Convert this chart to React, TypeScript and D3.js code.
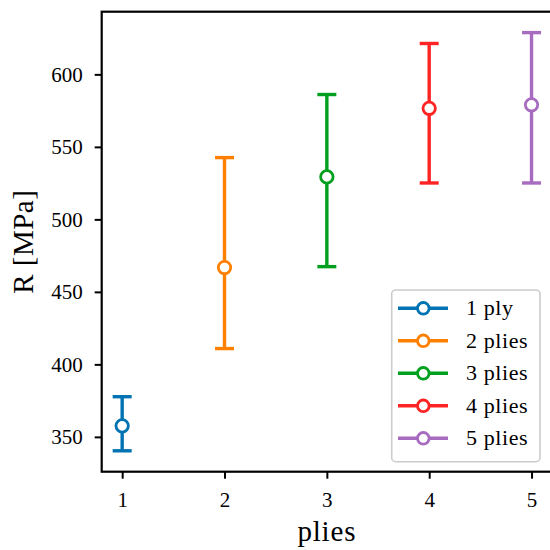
import React, { useEffect, useRef } from "react";
import * as d3 from "d3";

const plies = [1, 2, 3, 4, 5];
const labels = ["1 ply", "2 plies", "3 plies", "4 plies", "5 plies"];
const means = [357.6, 466.8, 529.3, 576.6, 579.0];
const lows = [340.4, 410.9, 467.4, 525.1, 525.1];
const highs = [377.7, 542.6, 586.1, 621.3, 628.8];
const colors = ["#0173b2", "#ff8000", "#00a01e", "#ff2323", "#a76bc0"];
const yTicks = [350, 400, 450, 500, 550, 600];

const FONT = "'Liberation Serif', serif";

const App = () => {
    const ref = useRef<SVGSVGElement>(null);

    useEffect(() => {
        if (!ref.current) return;
        const svg = d3.select(ref.current);
        svg.selectAll("*").remove();

        const left = 101.7, right = 552, top = 11.7, bottom = 471.7;

        const x = d3.scaleLinear().domain([0.8, 5.2]).range([left, right]);
        const yMin = d3.min(lows)!, yMax = d3.max(highs)!;
        const pad = (yMax - yMin) * 0.05;
        const y = d3.scaleLinear().domain([yMin - pad, yMax + pad]).range([bottom, top]);

        // error bars
        const g = svg.append("g");
        plies.forEach((p, i) => {
            const cx = x(p);
            g.append("line")
                .attr("x1", cx).attr("x2", cx)
                .attr("y1", y(lows[i])).attr("y2", y(highs[i]))
                .attr("stroke", colors[i]).attr("stroke-width", 3.4);
            [lows[i], highs[i]].forEach(v => {
                g.append("line")
                    .attr("x1", cx - 9.5).attr("x2", cx + 9.5)
                    .attr("y1", y(v)).attr("y2", y(v))
                    .attr("stroke", colors[i]).attr("stroke-width", 3.4);
            });
            g.append("circle")
                .attr("cx", cx).attr("cy", y(means[i]))
                .attr("r", 6.2)
                .attr("fill", "white")
                .attr("stroke", colors[i]).attr("stroke-width", 2.8);
        });

        // axes
        const xAxis = d3.axisBottom(x).tickValues(plies).tickSize(7).tickPadding(12)
            .tickFormat(d3.format("d"));
        const yAxis = d3.axisLeft(y).tickValues(yTicks).tickSize(7).tickPadding(12);

        const gx = svg.append("g").attr("transform", `translate(0,${bottom})`).call(xAxis);
        const gy = svg.append("g").attr("transform", `translate(${left},0)`).call(yAxis);
        [gx, gy].forEach(a => {
            a.select(".domain").remove();
            a.selectAll(".tick line").attr("stroke", "black").attr("stroke-width", 2);
            a.selectAll(".tick text")
                .style("font-family", FONT)
                .style("font-size", "21px")
                .attr("fill", "black");
        });
        gx.selectAll(".tick text").attr("dy", "0.8em");

        svg.append("rect")
            .attr("x", left).attr("y", top)
            .attr("width", right - left).attr("height", bottom - top)
            .attr("fill", "none").attr("stroke", "black").attr("stroke-width", 2.2);

        svg.append("text")
            .attr("x", (left + right) / 2).attr("y", 541)
            .attr("text-anchor", "middle")
            .style("font-family", FONT).style("font-size", "29px")
            .style("letter-spacing", "0.8px")
            .text("plies");

        svg.append("text")
            .attr("transform", `translate(33,${(top + bottom) / 2}) rotate(-90)`)
            .attr("text-anchor", "middle")
            .style("font-family", FONT).style("font-size", "29px")
            .style("letter-spacing", "0.5px")
            .text("R [MPa]");

        // legend
        const lg = svg.append("g");
        lg.append("rect")
            .attr("x", 391.7).attr("y", 290)
            .attr("width", 148.3).attr("height", 171.7)
            .attr("rx", 4)
            .attr("fill", "white").attr("fill-opacity", 0.8)
            .attr("stroke", "#cccccc").attr("stroke-width", 1.6);
        labels.forEach((lab, i) => {
            const ly = 308.3 + i * 32.5;
            lg.append("line")
                .attr("x1", 398).attr("x2", 448)
                .attr("y1", ly).attr("y2", ly)
                .attr("stroke", colors[i]).attr("stroke-width", 3.4);
            lg.append("circle")
                .attr("cx", 423.3).attr("cy", ly).attr("r", 5.8)
                .attr("fill", "white")
                .attr("stroke", colors[i]).attr("stroke-width", 2.8);
            lg.append("text")
                .attr("x", 466).attr("y", ly + 7)
                .style("font-family", FONT).style("font-size", "22px")
                .style("letter-spacing", "0.6px")
                .text(lab);
        });
    }, []);

    return <svg ref={ref} width={550} height={550} style={{ position: "absolute", left: 0, top: 0 }} />;
};

export default App;
